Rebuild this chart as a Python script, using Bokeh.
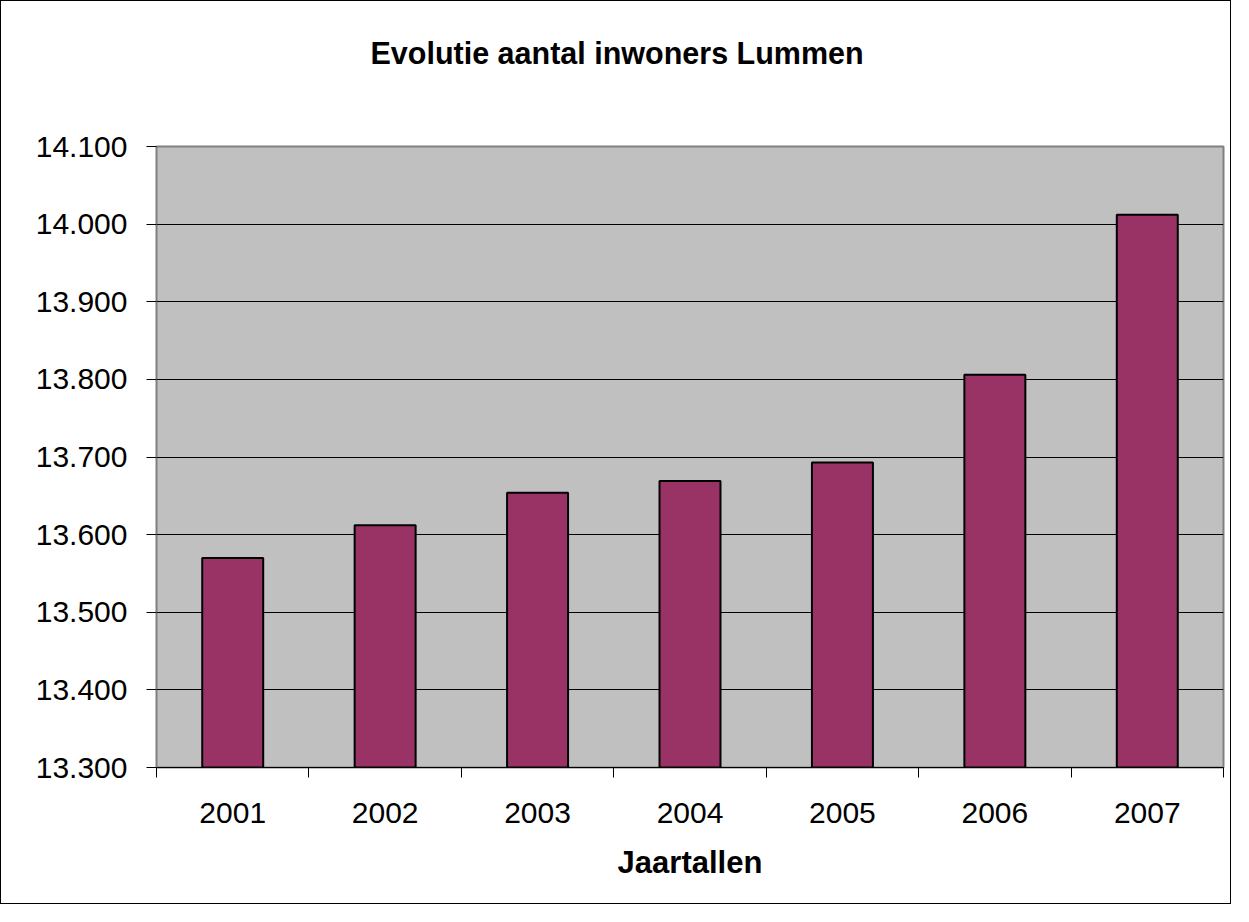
from bokeh.plotting import figure
from bokeh.models import Range1d, FixedTicker, Title
from bokeh.embed import file_html
from bokeh.resources import INLINE

# Data
years = ["2001", "2002", "2003", "2004", "2005", "2006", "2007"]
inwoners = [13570, 13612, 13654, 13669, 13693, 13806, 14012]
y_ticks = [13300, 13400, 13500, 13600, 13700, 13800, 13900, 14000, 14100]
title_text = "Evolutie aantal inwoners Lummen"
x_label = "Jaartallen"

FONT = "Liberation Sans"

x_pos = [i + 0.5 for i in range(len(years))]
boundaries = list(range(len(years) + 1))

p = figure(
    width=1231, height=904,
    output_backend="svg", toolbar_location=None,
    x_range=Range1d(0, len(years)), y_range=Range1d(y_ticks[0], y_ticks[-1]),
    min_border_left=155, min_border_right=9, min_border_top=145, min_border_bottom=138,
)
p.styles = {"border": "1px solid black"}

p.background_fill_color = "#C0C0C0"
p.border_fill_color = "white"
p.outline_line_color = "#808080"
p.outline_line_width = 2

# blank spacer between plot area and title (first = nearest the plot area)
spacer = Title(text=" ", text_font=FONT, text_font_size="10px",
               text_color="white", standoff=64)
p.add_layout(spacer, "above")
t = Title(text=title_text, align="left", offset=214, standoff=0,
          text_font=FONT, text_font_size="30.5px", text_font_style="bold",
          text_color="black")
p.add_layout(t, "above")

p.vbar(x=x_pos, top=inwoners, bottom=y_ticks[0], width=0.4,
       fill_color="#993366", line_color="black", line_width=2)

# X axis
xa = p.xaxis[0]
xa.ticker = FixedTicker(ticks=x_pos, minor_ticks=boundaries)
xa.major_label_overrides = {x: y for x, y in zip(x_pos, years)}
xa.major_tick_line_color = None
xa.major_tick_out = 10
xa.major_tick_in = 0
xa.minor_tick_line_color = "black"
xa.minor_tick_out = 10
xa.minor_tick_in = 0
xa.major_label_standoff = 25
xa.major_label_text_font = FONT
xa.major_label_text_font_size = "30px"
xa.major_label_text_color = "black"
xa.axis_line_color = "black"
xa.axis_label = x_label
xa.axis_label_text_font = FONT
xa.axis_label_text_font_size = "31px"
xa.axis_label_text_font_style = "bold"
xa.axis_label_text_color = "black"
xa.axis_label_standoff = 19

# Y axis
ya = p.yaxis[0]
ya.ticker = FixedTicker(ticks=y_ticks)
ya.major_label_overrides = {v: f"{v:,}".replace(",", ".") for v in y_ticks}
ya.major_tick_line_color = "black"
ya.major_tick_out = 10
ya.major_tick_in = 0
ya.minor_tick_line_color = None
ya.major_label_standoff = 19
ya.major_label_text_font = FONT
ya.major_label_text_font_size = "30px"
ya.major_label_text_color = "black"
ya.axis_line_color = "#808080"

p.xgrid.visible = False
p.ygrid.ticker = FixedTicker(ticks=y_ticks)
p.ygrid.grid_line_color = "black"
p.ygrid.grid_line_width = 1

open("out.html", "w").write(file_html(p, INLINE))
